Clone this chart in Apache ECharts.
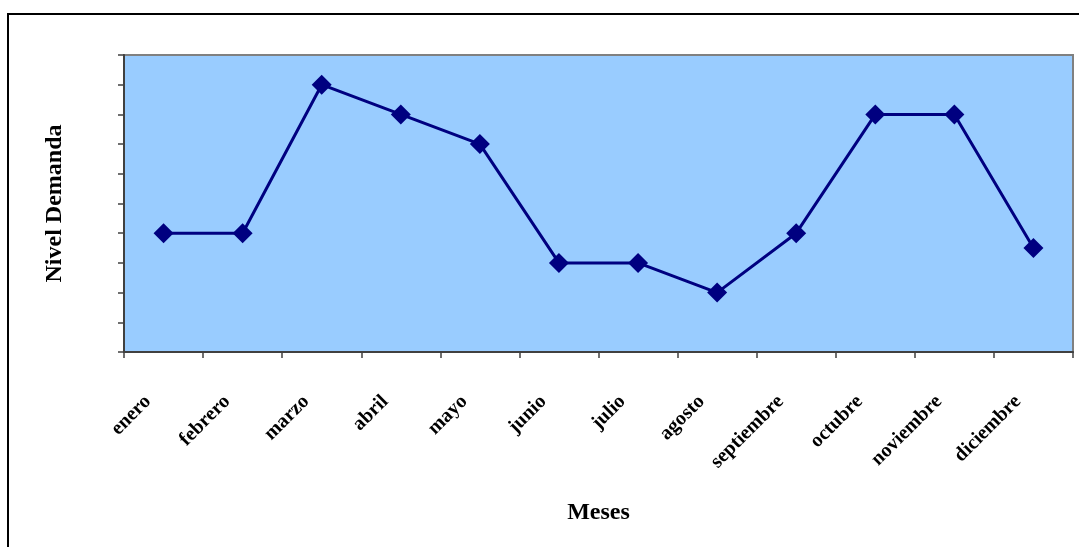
<!DOCTYPE html>
<html>
<head>
<meta charset="utf-8">
<script src="https://cdn.jsdelivr.net/npm/echarts@6/dist/echarts.min.js"></script>
<style>
  html, body { margin: 0; padding: 0; background: #fff; }
  #chart { width: 1079px; height: 547px; }
</style>
</head>
<body>
<div id="chart"></div>
<script>
// Monthly demand level
const months = ['enero', 'febrero', 'marzo', 'abril', 'mayo', 'junio', 'julio',
  'agosto', 'septiembre', 'octubre', 'noviembre', 'diciembre'];
const demand = [4, 4, 9, 8, 7, 3, 3, 2, 4, 8, 8, 3.5];
const yMin = 0;
const yMax = 10;
const yStep = 1;

const serif = '"Liberation Serif", "DejaVu Serif", serif';

const chart = echarts.init(document.getElementById('chart'), null, { renderer: 'canvas' });
chart.setOption({
  animation: false,
  backgroundColor: '#ffffff',
  grid: {
    left: 124, top: 55, right: 6, bottom: 195,
    show: true,
    backgroundColor: '#99ccff',
    borderColor: '#808080',
    borderWidth: 2
  },
  graphic: [{
    type: 'rect',
    shape: { x: 8, y: 14, width: 1200, height: 700 },
    style: { fill: 'none', stroke: '#000', lineWidth: 2 },
    silent: true,
    z: -1
  }],
  xAxis: {
    type: 'category',
    data: months,
    boundaryGap: true,
    name: 'Meses',
    nameLocation: 'middle',
    nameGap: 149,
    nameTextStyle: { fontFamily: serif, fontWeight: 'bold', fontSize: 24, color: '#000' },
    axisLine: { lineStyle: { color: '#404040', width: 2 } },
    axisTick: { show: true, length: 6, lineStyle: { color: '#404040', width: 1.5 } },
    axisLabel: {
      rotate: 45, margin: 31,
      formatter: v => '{m|' + v + '}',
      rich: {
        m: {
          fontFamily: serif, fontWeight: 'bold', fontSize: 20, color: '#000',
          padding: [0, 22, 0, 0]
        }
      }
    },
    splitLine: { show: false }
  },
  yAxis: {
    type: 'value',
    min: yMin, max: yMax, interval: yStep,
    name: 'Nivel Demanda',
    nameLocation: 'middle',
    nameGap: 57,
    nameRotate: 90,
    nameTextStyle: { fontFamily: serif, fontWeight: 'bold', fontSize: 24, color: '#000' },
    axisLine: { show: true, lineStyle: { color: '#404040', width: 2 } },
    axisTick: { show: true, inside: false, length: 6, lineStyle: { color: '#404040', width: 1.5 } },
    axisLabel: { show: false },
    splitLine: { show: false }
  },
  series: [{
    type: 'line',
    data: demand,
    symbol: 'diamond',
    symbolSize: 20,
    lineStyle: { color: '#000080', width: 3 },
    itemStyle: { color: '#000080' }
  }]
});
</script>
</body>
</html>
